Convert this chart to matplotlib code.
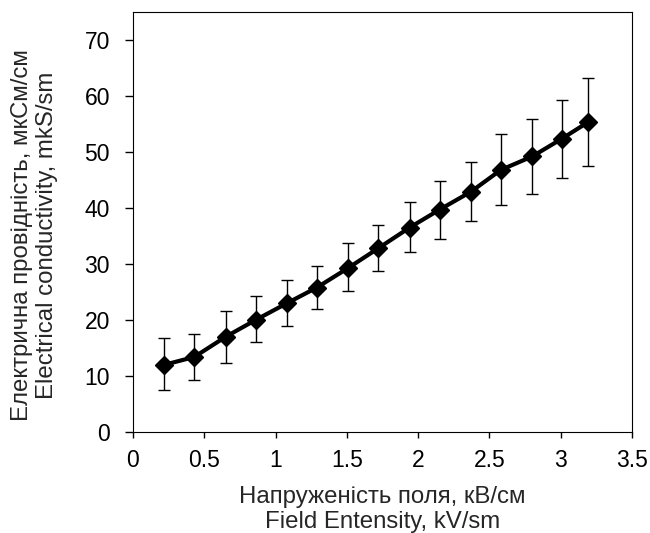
import numpy as np
import matplotlib
matplotlib.use('Agg')
import matplotlib.pyplot as plt

plt.rcParams['font.family'] = ['Liberation Sans', 'DejaVu Sans']

# Field intensity, kV/sm
field = [0.22, 0.43, 0.65, 0.86, 1.08, 1.29, 1.51, 1.72, 1.94, 2.15, 2.37, 2.58, 2.80, 3.01, 3.19]
# Electrical conductivity, mkS/sm
conductivity = [12.0, 13.4, 17.0, 20.0, 23.0, 25.8, 29.3, 32.8, 36.5, 39.7, 42.9, 46.8, 49.2, 52.4, 55.3]
upper = [16.7, 17.5, 21.6, 24.3, 27.2, 29.7, 33.7, 37.0, 41.0, 44.8, 48.3, 53.2, 55.9, 59.2, 63.2]
lower = [7.5, 9.3, 12.4, 16.0, 19.0, 22.0, 25.1, 28.7, 32.2, 34.4, 37.6, 40.6, 42.5, 45.4, 47.5]

y = np.array(conductivity)
yerr = [y - np.array(lower), np.array(upper) - y]

fig = plt.figure(figsize=(6.5, 5.33), dpi=100)
ax = fig.add_axes([0.2046, 0.1895, 0.7677, 0.788])

ax.errorbar(field, y, yerr=yerr, fmt='none', ecolor='black', elinewidth=1, capsize=4, capthick=1, zorder=2)
ax.plot(field, y, color='black', linewidth=3, marker='D', markersize=9, zorder=3)

ax.set_xlim(0, 3.5)
ax.set_ylim(0, 75)
ax.set_xticks(np.arange(0, 3.51, 0.5))
ax.set_xticklabels(['0', '0.5', '1', '1.5', '2', '2.5', '3', '3.5'])
ax.set_yticks(np.arange(0, 71, 10))
ax.tick_params(direction='out', labelsize=16.5, width=1)
ax.tick_params(axis='x', length=4, pad=8)
ax.tick_params(axis='y', length=5.5, pad=11)

ax.set_xlabel('Напруженість поля, кВ/см\nField Entensity, kV/sm', fontsize=17.3,
              color='#262626', linespacing=1.2)
ax.set_ylabel('Електрична провідність, мкСм/см\nElectrical conductivity, mkS/sm', fontsize=17.3,
              color='#262626', linespacing=1.2)
ax.xaxis.set_label_coords(0.5, -0.128)
ax.yaxis.set_label_coords(-0.15, 0.469)

fig.savefig('out.png', dpi=100)
